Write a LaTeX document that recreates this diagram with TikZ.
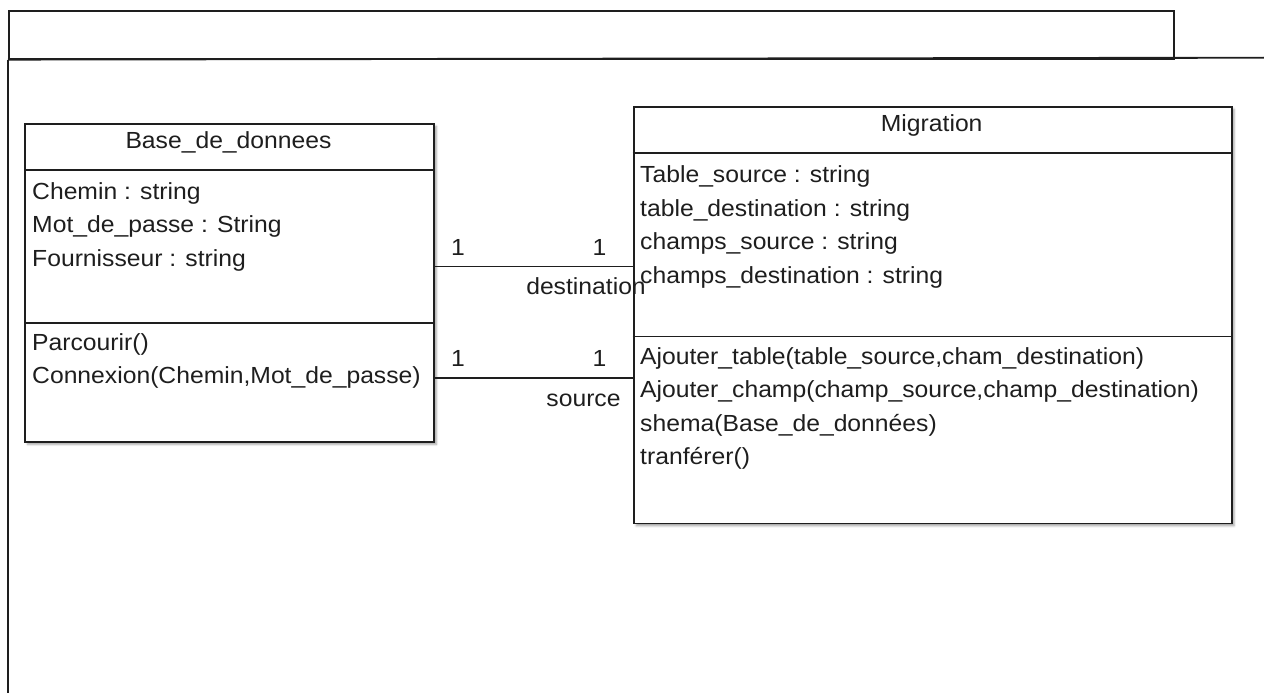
\documentclass[tikz,border=0pt]{standalone}
\usepackage{fontspec}
\setmainfont{Liberation Sans}[FakeStretch=1.06]
\usetikzlibrary{shadows.blur}
\definecolor{ink}{HTML}{1E1E1E}
\tikzset{
  frame/.style={draw=ink, line width=1.9pt},
  umlbox/.style={frame, fill=white, rectangle, inner sep=0pt, anchor=north west,
    blur shadow={shadow xshift=2.5pt, shadow yshift=-2.5pt, shadow blur radius=2pt, shadow opacity=35}},
  txt/.style={anchor=base west, inner sep=0pt, text=ink, font=\fontsize{23.3}{28}\selectfont},
  ctxt/.style={txt, anchor=base},
  assoc/.style={draw=ink, line width=1.9pt},
}
\begin{document}
\begin{tikzpicture}[x=1pt,y=-1pt]
\useasboundingbox (0,0) rectangle (1264,693);

% package frame: tab and open body
\node[frame, rectangle, inner sep=0pt, anchor=north west, minimum width=1165pt, minimum height=47.7pt] (tab) at (8,10) {};
\coordinate (bodyend) at (1264,57.7);
\coordinate (bodyfoot) at (8,693);
\draw[frame] (tab.south west) -- (bodyend);
\draw[frame] (tab.south west) -- (bodyfoot);

% class Base_de_donnees
\node[umlbox, minimum width=409pt, minimum height=318.3pt] (base) at (24,122.7) {};
\draw[frame] (base.west |- 0,170) -- (base.east |- 0,170);
\draw[frame] (base.west |- 0,322.7) -- (base.east |- 0,322.7);
\node[ctxt] (basetitle) at (228.5,148.3) {Base\_de\_donnees};
\node[txt] (ba1) at (32,199.3) {Chemin : string};
\node[txt] (ba2) at (32,232.8) {Mot\_de\_passe : String};
\node[txt] (ba3) at (32,266.3) {Fournisseur : string};
\node[txt] (bm1) at (32,350) {Parcourir()};
\node[txt] (bm2) at (32,383.5) {Connexion(Chemin,Mot\_de\_passe)};

% class Migration
\node[umlbox, minimum width=598pt, minimum height=416.8pt] (mig) at (632.7,105.7) {};
\draw[frame] (mig.west |- 0,153.3) -- (mig.east |- 0,153.3);
\draw[frame] (mig.west |- 0,336.5) -- (mig.east |- 0,336.5);
\node[ctxt] (migtitle) at (931.7,131.3) {Migration};
\node[txt] (ma1) at (640,182.7) {Table\_source : string};
\node[txt] (ma2) at (640,216.2) {table\_destination : string};
\node[txt] (ma3) at (640,249.7) {champs\_source : string};
\node[txt] (ma4) at (640,283.2) {champs\_destination : string};
\node[txt] (mm1) at (640,364.3) {Ajouter\_table(table\_source,cham\_destination)};
\node[txt] (mm2) at (640,397.8) {Ajouter\_champ(champ\_source,champ\_destination)};
\node[txt] (mm3) at (640,431.3) {shema(Base\_de\_données)};
\node[txt] (mm4) at (640,464.8) {tranférer()};

% associations
\coordinate (dstrow) at (0,266.5);
\coordinate (srcrow) at (0,378.3);
\draw[assoc] (base.east |- dstrow) -- (mig.west |- dstrow);
\draw[assoc] (base.east |- srcrow) -- (mig.west |- srcrow);

\node[ctxt] (d1) at (458,255) {1};
\node[ctxt] (d2) at (599.5,255) {1};
\node[ctxt] (dname) at (586,294) {destination};
\node[ctxt] (s1) at (458,366.7) {1};
\node[ctxt] (s2) at (599.5,366.7) {1};
\node[ctxt] (sname) at (583.5,406.7) {source};
\end{tikzpicture}
\end{document}
